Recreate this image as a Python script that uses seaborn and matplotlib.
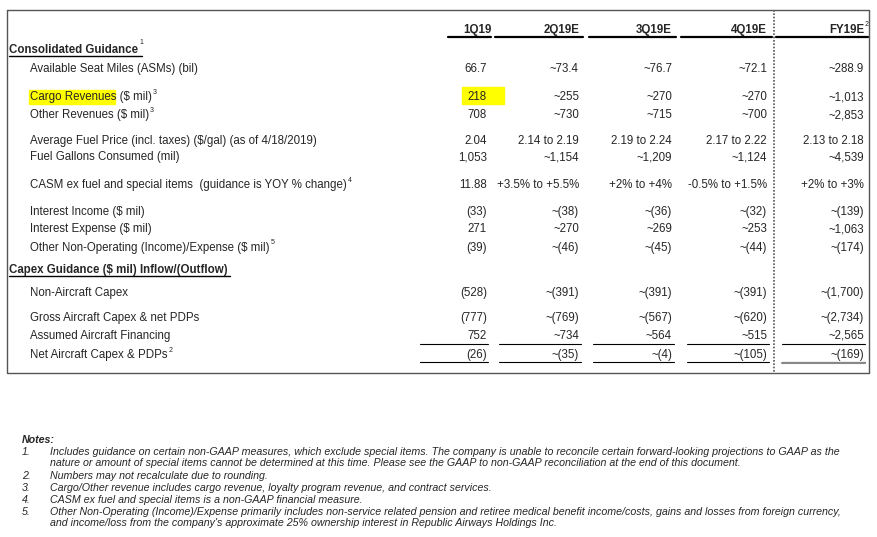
import matplotlib
matplotlib.use("Agg")
import matplotlib.pyplot as plt
import seaborn as sns

columns = ["1Q19", "2Q19E", "3Q19E", "4Q19E", "FY19E"]
row_labels = [
    "Available Seat Miles (ASMs) (bil)",
    "Cargo Revenues ($ mil)",
    "Other Revenues ($ mil)",
    "Average Fuel Price (incl. taxes) ($/gal) (as of 4/18/2019)",
    "Fuel Gallons Consumed (mil)",
    "CASM ex fuel and special items  (guidance is YOY % change)",
    "Interest Income ($ mil)",
    "Interest Expense ($ mil)",
    "Other Non-Operating (Income)/Expense ($ mil)",
    "Non-Aircraft Capex",
    "Gross Aircraft Capex & net PDPs",
    "Assumed Aircraft Financing",
    "Net Aircraft Capex & PDPs",
]
row_sup = ["", "3", "3", "", "", "4", "", "", "5", "", "", "", "2"]
q1 = ["66.7", "218", "708", "2.04", "1,053", "11.88", "(33)", "271", "(39)", "(528)", "(777)", "752", "(26)"]
q2 = ["~73.4", "~255", "~730", "2.14 to 2.19", "~1,154", "+3.5% to +5.5%", "~(38)", "~270", "~(46)", "~(391)", "~(769)", "~734", "~(35)"]
q3 = ["~76.7", "~270", "~715", "2.19 to 2.24", "~1,209", "+2% to +4%", "~(36)", "~269", "~(45)", "~(391)", "~(567)", "~564", "~(4)"]
q4 = ["~72.1", "~270", "~700", "2.17 to 2.22", "~1,124", "-0.5% to +1.5%", "~(32)", "~253", "~(44)", "~(391)", "~(620)", "~515", "~(105)"]
fy = ["~288.9", "~1,013", "~2,853", "2.13 to 2.18", "~4,539", "+2% to +3%", "~(139)", "~1,063", "~(174)", "~(1,700)", "~(2,734)", "~2,565", "~(169)"]
notes = [
    ("1.", "Includes guidance on certain non-GAAP measures, which exclude special items. The company is unable to reconcile certain forward-looking projections to GAAP as the\nnature or amount of special items cannot be determined at this time. Please see the GAAP to non-GAAP reconciliation at the end of this document."),
    ("2.", "Numbers may not recalculate due to rounding."),
    ("3.", "Cargo/Other revenue includes cargo revenue, loyalty program revenue, and contract services."),
    ("4.", "CASM ex fuel and special items is a non-GAAP financial measure."),
    ("5.", "Other Non-Operating (Income)/Expense primarily includes non-service related pension and retiree medical benefit income/costs, gains and losses from foreign currency,\nand income/loss from the company's approximate 25% ownership interest in Republic Airways Holdings Inc."),
]

sns.set_theme(style="white")
plt.rcParams["font.family"] = ["Liberation Sans", "DejaVu Sans"]

fig = plt.figure(figsize=(8.77, 5.37), dpi=100)
ax = fig.add_axes([0, 0, 1, 1])
ax.set_xlim(0, 877)
ax.set_ylim(537, 0)
ax.axis("off")

fs = 8.3
sfs = 5


def add_sup(t, y, s):
    fig.canvas.draw()
    bb = t.get_window_extent()
    x1 = ax.transData.inverted().transform((bb.x1, bb.y0))[0]
    ax.text(x1 + 1, y - 5, s, fontsize=sfs, va="center")


# outer box and dotted divider
ax.plot([7, 869, 869, 7, 7], [10, 10, 373, 373, 10], color="#555555", lw=1)
ax.plot([774, 774], [10, 373], color="#555555", lw=1.2, ls=(0, (1, 1)))

col_right = [487, 579, 672, 767, 864]
head_span = [(448, 491), (495, 583), (589, 676), (681, 772), (776, 868)]
for c, xr, (a, b) in zip(columns, col_right, head_span):
    if c == "1Q19":
        t = ax.text(477, 33, c, ha="center", va="baseline", fontsize=fs, fontweight="bold")
    else:
        t = ax.text(xr, 33, c, ha="right", va="baseline", fontsize=fs, fontweight="bold")
    ax.plot([a, b], [37, 37], color="black", lw=1.6)
add_sup(t, 30, "2")

ys = [69, 97, 115, 141, 157, 185, 212, 229, 248, 293, 318, 336, 355]

# section headers
t = ax.text(9, 50, "Consolidated Guidance", fontsize=fs, fontweight="bold", va="center")
add_sup(t, 48, "1")
ax.plot([9, 142], [56, 56], color="black", lw=1)
ax.text(9, 270, "Capex Guidance ($ mil) Inflow/(Outflow)", fontsize=fs, fontweight="bold", va="center")
ax.plot([9, 230], [276, 276], color="black", lw=1)

# highlight
ax.add_patch(plt.Rectangle((29, 90), 86, 14, color="#ffff00", zorder=0))
ax.add_patch(plt.Rectangle((462, 87), 42, 17, color="#ffff00", zorder=0))

for i, (lab, sup, y) in enumerate(zip(row_labels, row_sup, ys)):
    t = ax.text(30, y, lab, fontsize=fs, va="center")
    if sup:
        add_sup(t, y, sup)
    for vals, xr in zip([q1, q2, q3, q4, fy], col_right):
        ax.text(xr, y, vals[i], fontsize=fs, va="center", ha="right")

line_spans = [(420, 488), (499, 581), (593, 674), (687, 769), (782, 865)]
for a, b in line_spans:
    ax.plot([a, b], [344, 344], color="black", lw=0.8)
    ax.plot([a, b], [362, 362], color="black", lw=0.8)
ax.plot([782, 865], [363, 363], color="#888888", lw=1.5)

nfs = 7.7
ax.text(22, 440, "Notes:", fontsize=nfs, fontweight="bold", style="italic", va="center")
ny = 447
for num, txt in notes:
    ax.text(22, ny, num, fontsize=nfs, style="italic", va="top")
    ax.text(50, ny, txt, fontsize=nfs, style="italic", va="top", linespacing=1.1)
    ny += 12 * (txt.count("\n") + 1)

fig.savefig("out.png", dpi=100, facecolor="white")
